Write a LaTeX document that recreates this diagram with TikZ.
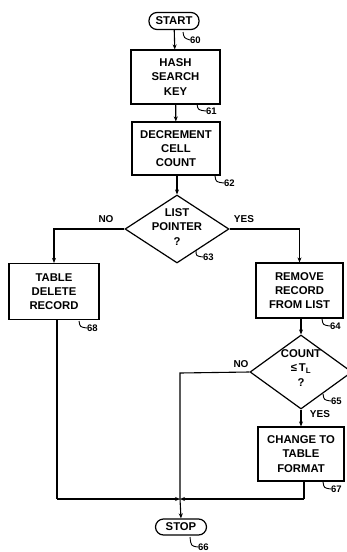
\documentclass[tikz,border=0pt]{standalone}
\usepackage{fontspec}
\setmainfont{Liberation Sans}
\usetikzlibrary{arrows.meta,shapes.geometric}
\tikzset{
  every node/.style={font=\fontsize{11.3}{14.3}\selectfont\bfseries, inner sep=0pt},
  proc/.style={draw, line width=1.2pt, align=center, minimum width=88pt, minimum height=54pt},
  term/.style={draw, line width=1.2pt, rounded corners=8pt, minimum width=50pt, minimum height=17pt},
  deci/.style={draw, line width=1.2pt, diamond},
  dtext/.style={align=center},
  flow/.style={line width=1.1pt, -{Stealth[length=5pt,width=4pt]}},
  plain/.style={line width=1.1pt},
  hook/.style={line width=0.9pt},
  refn/.style={font=\fontsize{9.5}{10}\selectfont\bfseries, anchor=west},
  lab/.style={font=\fontsize{10}{10}\selectfont\bfseries}
}
\begin{document}
\begin{tikzpicture}[x=1pt,y=-1pt]
\useasboundingbox (0,0) rectangle (346,552);
% nodes
\node[term] (start) at (174,21) {START};
\node[proc, minimum width=89pt] (hash) at (175.5,77) {HASH\\SEARCH\\KEY};
\node[proc, minimum height=53pt] (dec) at (176,148.5) {DECREMENT\\CELL\\COUNT};
\node[deci, minimum width=104pt, minimum height=68pt] (list) at (177,229) {};
\node[dtext] (listtxt) at (177,227) {LIST\\POINTER\\?};
\node[proc, minimum width=90pt, minimum height=56pt] (tdel) at (54,291.5) {TABLE\\DELETE\\RECORD};
\node[proc, minimum width=87pt, minimum height=55pt] (remove) at (299.5,290.5) {REMOVE\\RECORD\\FROM LIST};
\node[deci, minimum width=102pt, minimum height=74pt] (count) at (301,372) {};
\node[dtext] (counttxt) at (301,368) {COUNT\\≤\,T\textsubscript{L}\\?};
\node[proc, minimum width=86pt, minimum height=54pt] (change) at (301,454) {CHANGE TO\\TABLE\\FORMAT};
\node[term, minimum width=51pt, minimum height=16pt] (stop) at (181,527) {STOP};
\coordinate (J) at (180,499);
\coordinate (tdelbot) at (57,499);
\coordinate (chbot) at (304,499);
\coordinate (noturn) at (180,373);
% connectors
\draw[flow] (start) -- (hash);
\draw[flow] (hash) -- (dec);
\draw[flow] (dec.south -| list.north) -- (list.north);
\draw[flow] (list.west) -| (tdel.north);
\draw[flow] (list.east) -| (remove.north);
\draw[flow] (remove.south -| count.north) -- (count.north);
\draw[flow] (count.south) -- (change.north);
\draw[plain] (count.west) -- (noturn) -- (J);
\draw[flow] (J) -- (stop.north);
\draw[plain] (tdel.south -| tdelbot) -- (tdelbot);
\draw[flow] (tdelbot) -- (J);
\draw[plain] (change.south -| chbot) -- (chbot);
\draw[flow] (chbot) -- (J);
% branch labels
\node[lab] (no1) at (106,219) {NO};
\node[lab] (yes1) at (244,219) {YES};
\node[lab] (no2) at (241,364) {NO};
\node[lab] (yes2) at (320,414) {YES};
% reference numerals
\node[refn] (r60) at (190,40) {60};
\draw[hook] (183,32) .. controls (184,38) .. (r60.west);
\node[refn] (r61) at (206,111) {61};
\draw[hook] (197,104) .. controls (198,110) .. (r61.west);
\node[refn] (r62) at (224,183) {62};
\draw[hook] (215,176) .. controls (216,182) .. (r62.west);
\node[refn] (r63) at (203,257) {63};
\draw[hook] (196,250) .. controls (196,256) .. (r63.west);
\node[refn] (r68) at (87,328) {68};
\draw[hook] (79,321) .. controls (80,327) .. (r68.west);
\node[refn] (r64) at (330,326) {64};
\draw[hook] (322,319) .. controls (323,325) .. (r64.west);
\node[refn] (r65) at (331,401) {65};
\draw[hook] (323,394) .. controls (324,400) .. (r65.west);
\node[refn] (r67) at (331,489) {67};
\draw[hook] (323,482) .. controls (324,488) .. (r67.west);
\node[refn] (r66) at (198,547) {66};
\draw[hook] (190,537) .. controls (191,546) .. (r66.west);
\end{tikzpicture}
\end{document}
